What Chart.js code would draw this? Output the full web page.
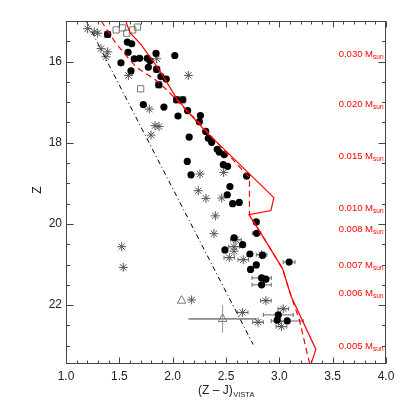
<!DOCTYPE html>
<html>
<head>
<meta charset="utf-8">
<script src="https://cdn.jsdelivr.net/npm/chart.js@4.4.1/dist/chart.umd.min.js"></script>
<style>
  html, body { margin: 0; padding: 0; background: #fff; }
  canvas { display: block; }
</style>
</head>
<body>
<canvas id="myChart" width="407" height="407"></canvas>
<script>
// points are [(Z-J), Z]
const circles = [
  [1.39,15.33],[1.575,15.52],[1.616,15.56],[1.582,15.77],[1.515,16.03],[1.64,15.93],[1.69,15.92],
  [1.762,15.92],[1.787,15.98],[1.844,15.80],[2.02,15.85],[1.772,16.14],[1.609,16.23],[1.85,16.19],
  [1.89,16.37],[1.94,16.43],[1.87,16.57],[1.725,17.06],[1.918,17.12],[2.037,16.94],[2.094,16.94],
  [2.14,17.21],[2.05,17.34],[2.26,17.33],[2.25,17.48],[2.155,17.86],[2.31,17.72],[2.334,17.89],
  [2.366,17.99],[2.418,18.16],[2.437,18.23],[2.484,18.29],[2.137,18.46],[2.475,18.54],[2.515,18.58],
  [2.172,18.79],[2.693,18.82],[2.537,19.08],[2.512,19.28],[2.562,19.50],[2.624,19.47],[2.784,19.95],
  [2.787,20.23],[2.576,20.34],[2.656,20.51],[2.49,20.64],[2.724,20.74],[2.843,20.77],[3.092,20.94],
  [2.784,21.01],[2.73,21.12],[2.834,21.33],[2.874,21.36],[2.834,21.50],[2.99,22.24],[2.98,22.37],
  [3.074,22.39]
];
const asterisks = [
  [1.203,15.19],[1.265,15.27],[1.297,15.30],[1.328,15.68],[1.39,15.76],[1.375,15.88],[1.85,15.93],
  [1.585,16.34],[2.147,16.34],[1.781,17.17],[1.834,17.58],[1.872,17.60],[1.797,17.81],[2.256,18.77],
  [2.478,18.73],[2.24,19.18],[2.312,19.37],[2.46,19.36],[2.40,19.80],[2.387,20.24],[2.593,20.39],
  [2.575,20.56],[2.575,20.67],[2.531,20.83],[2.662,20.88],[2.834,20.76],[1.522,20.56],[1.537,21.07],
  [2.178,21.87],[2.874,21.89],[3.037,22.09],[2.656,22.18],[2.80,22.42],[2.99,22.40],[3.02,22.53]
];
const squares = [
  [1.47,15.22],[1.53,15.17],[1.57,15.30],[1.625,15.22],[1.67,15.15],[1.70,16.67],
  [1.39,15.33],[1.87,16.57],[2.037,16.94],[2.094,16.94],[1.85,16.19]
];
const triangles = [[2.084,21.89],[2.468,22.34]];

// [x, z, xerr, zerr]
const errorBars = [
  [2.787,20.23,0.04,0],[3.092,20.94,0.055,0],[2.834,21.33,0.09,0],[2.834,21.50,0.09,0],
  [2.99,22.24,0.14,0],[3.074,22.39,0.15,0],[2.468,22.34,0.32,0.34],
  [2.593,20.39,0.05,0],[2.575,20.56,0.05,0],[2.531,20.83,0.05,0],[2.662,20.88,0.05,0],
  [2.834,20.76,0.05,0],[2.874,21.89,0.05,0],[3.037,22.09,0.05,0],[2.656,22.18,0.05,0],
  [2.80,22.42,0.05,0],[3.02,22.53,0.05,0]
];

const modelSolid = [
  [1.56,15.0],[1.60,15.29],[1.70,15.57],[1.88,16.23],[2.04,16.92],[2.16,17.29],[2.303,17.70],
  [2.949,19.35],[2.921,19.67],[2.715,19.77],[2.82,20.20],[3.03,21.10],[3.11,21.78],[3.343,23.09],[3.29,23.5]
];
const modelDashed = [
  [1.33,15.0],[1.40,15.28],[1.46,15.52],[1.55,15.81],[1.66,16.14],[1.85,16.47],[1.97,16.76],
  [2.13,17.21],[2.26,17.53],[2.40,17.95],[2.70,18.80],[2.72,18.86],[2.72,19.78],[2.82,20.20],
  [3.03,21.10],[3.11,21.78],[3.19,22.38],[3.255,23.12],[3.29,23.5]
];
const limitLine = [[1.19,15.0],[2.755,22.97]];

const massLabels = ['0.030','0.020','0.015','0.010','0.008','0.007','0.006','0.005'];
const massZ = [15.89,17.13,18.39,19.67,20.20,21.09,21.78,23.09];

const xTicks = [1.0,1.5,2.0,2.5,3.0,3.5,4.0];
const yTicks = [16,18,20,22];

const FONT = "'Liberation Sans', Arial, Helvetica, sans-serif";
const pts = arr => arr.map(p => ({x: p[0], y: p[1]}));

const framePlugin = {
  id: 'frame',
  beforeDatasetsDraw(chart) {
    const {ctx, scales: {x, y}} = chart;
    ctx.save();
    ctx.strokeStyle = '#666';
    ctx.lineWidth = 1;
    errorBars.forEach(([ex, ez, dx, dz]) => {
      const cx = x.getPixelForValue(ex), cy = y.getPixelForValue(ez);
      if (dx) {
        const x1 = x.getPixelForValue(ex - dx), x2 = x.getPixelForValue(ex + dx);
        ctx.strokeStyle = dz ? '#333' : '#666';
        ctx.beginPath(); ctx.moveTo(x1, cy); ctx.lineTo(x2, cy); ctx.stroke();
        if (!dz) {
          ctx.beginPath();
          ctx.moveTo(x1, cy - 2); ctx.lineTo(x1, cy + 2);
          ctx.moveTo(x2, cy - 2); ctx.lineTo(x2, cy + 2);
          ctx.stroke();
        }
      }
      if (dz) {
        ctx.strokeStyle = '#999';
        ctx.beginPath();
        ctx.moveTo(cx, y.getPixelForValue(ez - dz));
        ctx.lineTo(cx, y.getPixelForValue(ez + dz));
        ctx.stroke();
      }
    });
    ctx.restore();
  },
  afterDraw(chart) {
    const {ctx, chartArea: a, scales: {x, y}} = chart;
    ctx.save();
    ctx.strokeStyle = '#444';
    ctx.lineWidth = 1;
    const L = Math.round(a.left) + 0.5, R = Math.round(a.right) - 0.5;
    const T = Math.round(a.top) + 0.5, B = Math.round(a.bottom) - 0.5;
    ctx.strokeRect(L, T, R - L, B - T);
    ctx.beginPath();
    for (let i = 0; i <= 30; i++) {
      const v = 1 + i * 0.1;
      const len = i % 5 === 0 ? 6 : 3;
      const px = Math.round(x.getPixelForValue(v)) + 0.5;
      ctx.moveTo(px, B); ctx.lineTo(px, B - len);
      ctx.moveTo(px, T); ctx.lineTo(px, T + len);
    }
    for (let i = 1; 15 + i * 0.5 <= y.max; i++) {
      const v = 15 + i * 0.5;
      const len = v % 2 === 0 ? 7 : 3.5;
      const py = Math.round(y.getPixelForValue(v)) + 0.5;
      ctx.moveTo(L, py); ctx.lineTo(L + len, py);
      ctx.moveTo(R, py); ctx.lineTo(R - len, py);
    }
    ctx.stroke();

    // mass labels
    ctx.fillStyle = '#ff0000';
    ctx.textBaseline = 'alphabetic';
    const right = R - 2;
    massLabels.forEach((m, i) => {
      const py = y.getPixelForValue(massZ[i]);
      ctx.font = '6.5px ' + FONT;
      const sw = ctx.measureText('sun').width;
      ctx.textAlign = 'left';
      ctx.fillText('sun', right - sw, py + 2);
      ctx.font = '9.5px ' + FONT;
      ctx.textAlign = 'right';
      ctx.fillText(m + ' M', right - sw, py);
    });

    // axis titles
    ctx.fillStyle = '#222';
    ctx.font = '12px ' + FONT;
    ctx.textAlign = 'center';
    ctx.textBaseline = 'middle';
    ctx.save();
    ctx.translate(38, 190);
    ctx.rotate(-Math.PI / 2);
    ctx.fillText('Z', 0, 0);
    ctx.restore();

    ctx.textBaseline = 'alphabetic';
    ctx.textAlign = 'left';
    const main = '(Z \u2013 J)';
    const mw = ctx.measureText(main).width;
    ctx.font = '7.5px ' + FONT;
    const sw2 = ctx.measureText('VISTA').width;
    const startX = (a.left + a.right) / 2 - (mw + sw2) / 2;
    ctx.font = '12px ' + FONT;
    ctx.fillText(main, startX, 394);
    ctx.font = '7.5px ' + FONT;
    ctx.fillText('VISTA', startX + mw + 0.5, 397);
    ctx.restore();
  }
};

new Chart('myChart', {
  type: 'scatter',
  data: {
    datasets: [
      {
        data: pts(modelSolid), showLine: true, borderColor: '#ff0000', borderWidth: 1.2,
        pointRadius: 0, fill: false, order: 1
      },
      {
        data: pts(modelDashed), showLine: true, borderColor: '#ff0000', borderWidth: 1.2,
        borderDash: [6, 4], pointRadius: 0, fill: false, order: 2
      },
      {
        data: pts(limitLine), showLine: true, borderColor: '#000', borderWidth: 1,
        borderDash: [5, 3, 1, 3], pointRadius: 0, fill: false, order: 3
      },
      {
        data: pts(circles), pointStyle: 'circle', pointRadius: 3.6,
        backgroundColor: '#000', borderColor: '#000', borderWidth: 0, order: 4
      },
      {
        data: pts(squares), pointStyle: 'rect', pointRadius: 4.4,
        backgroundColor: 'rgba(0,0,0,0)', borderColor: '#777', borderWidth: 1, order: 5
      },
      {
        data: pts(triangles), pointStyle: 'triangle', pointRadius: 5,
        backgroundColor: 'rgba(0,0,0,0)', borderColor: '#777', borderWidth: 1, order: 6
      },
      {
        data: pts(asterisks), pointStyle: 'star', pointRadius: 4.5,
        backgroundColor: 'rgba(0,0,0,0)', borderColor: '#555', borderWidth: 1, order: 7
      }
    ]
  },
  options: {
    responsive: false,
    devicePixelRatio: 1,
    animation: false,
    events: [],
    layout: { padding: { top: 21, right: 21, left: 0, bottom: 0 } },
    plugins: { legend: { display: false }, tooltip: { enabled: false } },
    scales: {
      x: {
        type: 'linear', min: 1, max: 4,
        grid: { display: false, drawTicks: false },
        border: { display: false },
        afterBuildTicks: s => { s.ticks = xTicks.map(v => ({value: v})); },
        afterFit: s => { s.height = 43; },
        ticks: {
          padding: 5, color: '#222', font: { family: FONT, size: 12 },
          maxRotation: 0, autoSkip: false,
          callback: v => Number(v).toFixed(1)
        }
      },
      y: {
        type: 'linear', min: 15, max: 23.45, reverse: true,
        grid: { display: false, drawTicks: false },
        border: { display: false },
        afterBuildTicks: s => { s.ticks = yTicks.map(v => ({value: v})); },
        afterFit: s => { s.width = 66; },
        ticks: {
          padding: 4, color: '#222', font: { family: FONT, size: 12 },
          autoSkip: false,
          callback: v => String(v)
        }
      }
    }
  },
  plugins: [framePlugin]
});
</script>
</body>
</html>
